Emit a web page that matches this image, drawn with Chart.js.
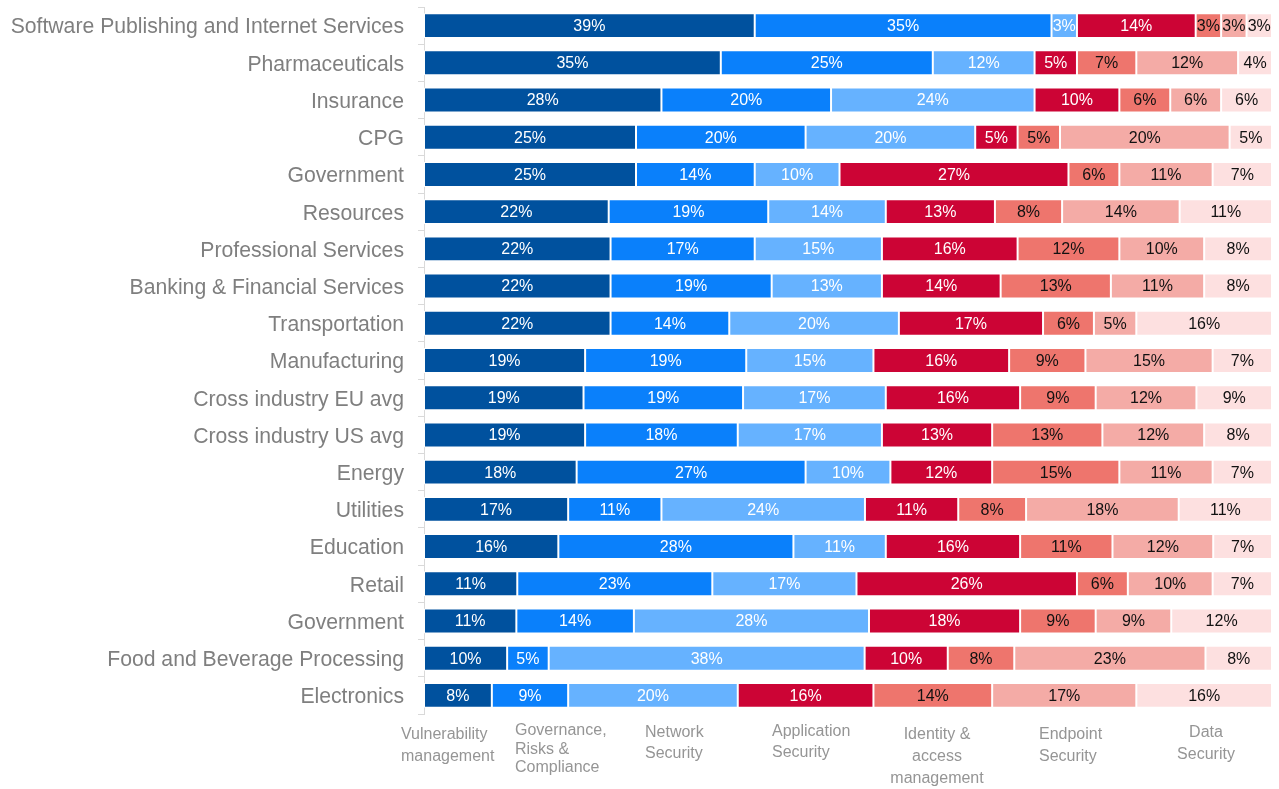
<!DOCTYPE html>
<html>
<head>
<meta charset="utf-8">
<script src="https://cdn.jsdelivr.net/npm/chart.js@4/dist/chart.umd.min.js"></script>
<style>
  html, body { margin: 0; padding: 0; background: #fff; }
  #wrap { width: 1279px; height: 789px; position: relative; }
</style>
</head>
<body>
<div id="wrap"><canvas id="securityChart"></canvas></div>
<script>
/* ── Data ─────────────────────────────────────────────── */
const industries = [
  'Software Publishing and Internet Services', 'Pharmaceuticals', 'Insurance', 'CPG',
  'Government', 'Resources', 'Professional Services', 'Banking & Financial Services',
  'Transportation', 'Manufacturing', 'Cross industry EU avg', 'Cross industry US avg',
  'Energy', 'Utilities', 'Education', 'Retail', 'Government',
  'Food and Beverage Processing', 'Electronics'
];

const vulnerabilityMgmt = [39, 35, 28, 25, 25, 22, 22, 22, 22, 19, 19, 19, 18, 17, 16, 11, 11, 10, 8];
const governanceRisk    = [35, 25, 20, 20, 14, 19, 17, 19, 14, 19, 19, 18, 27, 11, 28, 23, 14, 5, 9];
const networkSecurity   = [3, 12, 24, 20, 10, 14, 15, 13, 20, 15, 17, 17, 10, 24, 11, 17, 28, 38, 20];
const appSecurity       = [14, 5, 10, 5, 27, 13, 16, 14, 17, 16, 16, 13, 12, 11, 16, 26, 18, 10, 16];
const identityAccess    = [3, 7, 6, 5, 6, 8, 12, 13, 6, 9, 9, 13, 15, 8, 11, 6, 9, 8, 14];
const endpointSecurity  = [3, 12, 6, 20, 11, 14, 10, 11, 5, 15, 12, 12, 11, 18, 12, 10, 9, 23, 17];
const dataSecurity      = [3, 4, 6, 5, 7, 11, 8, 8, 16, 7, 9, 8, 7, 11, 7, 7, 12, 8, 16];

const seriesNames = [
  ['Vulnerability', 'management'],
  ['Governance,', 'Risks &', 'Compliance'],
  ['Network', 'Security'],
  ['Application', 'Security'],
  ['Identity &', 'access', 'management'],
  ['Endpoint', 'Security'],
  ['Data', 'Security']
];
const seriesValues = [vulnerabilityMgmt, governanceRisk, networkSecurity, appSecurity,
                      identityAccess, endpointSecurity, dataSecurity];

/* ── Styles ───────────────────────────────────────────── */
const colors = ['#00519e', '#0a80fb', '#66b2ff', '#cc0435', '#ee756d', '#f4aba6', '#fde0e0'];
const labelColors = ['#fff', '#fff', '#fff', '#fff', '#111', '#111', '#111'];
const FONT = "'Liberation Sans', Arial, sans-serif";

// each row is drawn as share of its own total (100% stacked)
const rowTotals = industries.map((_, i) => seriesValues.reduce((s, arr) => s + arr[i], 0));

const datasets = seriesValues.map((vals, k) => ({
  label: seriesNames[k].join(' '),
  data: vals.map((v, i) => v / rowTotals[i] * 100),
  raw: vals,
  backgroundColor: colors[k],
  borderColor: '#ffffff',
  borderWidth: 1,
  borderSkipped: false,
  categoryPercentage: 1,
  barPercentage: 0.67
}));

/* percentage text in the middle of each segment */
const segmentLabels = {
  id: 'segmentLabels',
  afterDatasetsDraw(chart) {
    const ctx = chart.ctx;
    ctx.save();
    ctx.font = '16px ' + FONT;
    ctx.textAlign = 'center';
    ctx.textBaseline = 'middle';
    chart.data.datasets.forEach((ds, k) => {
      const meta = chart.getDatasetMeta(k);
      ctx.fillStyle = labelColors[k];
      meta.data.forEach((bar, i) => {
        const p = bar.getProps(['x', 'y', 'base'], true);
        ctx.fillText(ds.raw[i] + '%', (p.x + p.base) / 2, p.y + 1);
      });
    });
    ctx.restore();
  }
};

/* series names under the bars, one small text block per series */
const legendBoxes = [
  { x: 401,  y: 735, align: 'left',   lh: 22 },
  { x: 515,  y: 731, align: 'left',   lh: 18.5 },
  { x: 645,  y: 733, align: 'left',   lh: 21 },
  { x: 772,  y: 732, align: 'left',   lh: 21 },
  { x: 937,  y: 735, align: 'center', lh: 22 },
  { x: 1039, y: 735, align: 'left',   lh: 22 },
  { x: 1206, y: 733, align: 'center', lh: 22 }
];
const bottomLegend = {
  id: 'bottomLegend',
  afterDraw(chart) {
    const ctx = chart.ctx;
    ctx.save();
    ctx.font = '16px ' + FONT;
    ctx.fillStyle = '#959595';
    ctx.textBaseline = 'middle';
    seriesNames.forEach((lines, k) => {
      const b = legendBoxes[k];
      ctx.textAlign = b.align;
      lines.forEach((t, j) => ctx.fillText(t, b.x, b.y + j * b.lh));
    });
    ctx.restore();
  }
};

new Chart(document.getElementById('securityChart'), {
  type: 'bar',
  data: { labels: industries, datasets },
  options: {
    indexAxis: 'y',
    responsive: true,
    maintainAspectRatio: false,
    animation: false,
    layout: { padding: { top: 7, right: 7, bottom: 75, left: 0 } },
    plugins: { legend: { display: false }, tooltip: { enabled: false } },
    scales: {
      x: { stacked: true, min: 0, max: 100, display: false },
      y: {
        stacked: true,
        afterFit(scale) {
          scale.width = 424;
          scale.paddingTop = 0;
          scale.paddingBottom = 0;
        },
        ticks: { color: '#7f7f7f', font: { family: FONT, size: 21.2 }, padding: 14, labelOffset: 2, autoSkip: false },
        grid: { offset: true, drawOnChartArea: false, drawTicks: true, tickLength: 6, color: '#d9d9d9' },
        border: { display: true, color: '#d9d9d9' }
      }
    }
  },
  plugins: [segmentLabels, bottomLegend]
});
</script>
</body>
</html>
